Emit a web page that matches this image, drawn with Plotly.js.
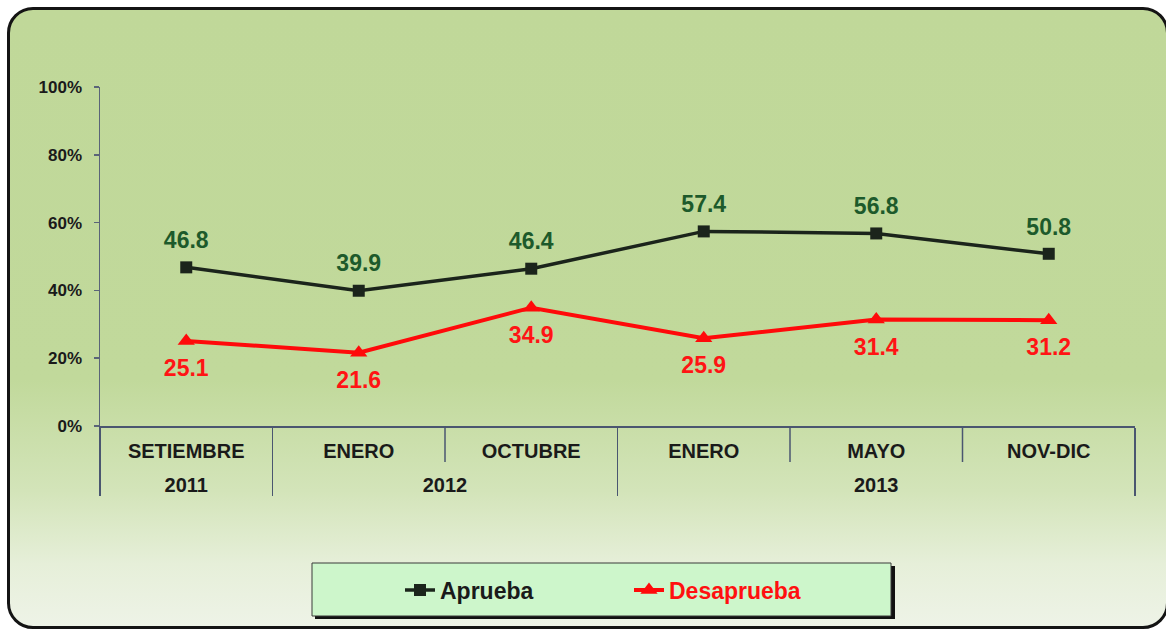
<!DOCTYPE html>
<html>
<head>
<meta charset="utf-8">
<script src="https://cdn.plot.ly/plotly-3.0.1.min.js"></script>
<style>
  html, body { margin: 0; padding: 0; background: #ffffff; }
  #wrap { position: relative; width: 1166px; height: 631px; overflow: hidden; background: #ffffff; }
  #frame {
    position: absolute; left: 7px; top: 7px; width: 1162px; height: 622px;
    border: 3px solid #141414; border-radius: 26px; box-sizing: border-box;
    background: linear-gradient(to bottom, #c0d899 0%, #c1d99b 60%, #d3e4b9 78%, #e6efd9 90%, #eef3e7 100%);
  }
  #chart { position: absolute; left: 0; top: 0; width: 1166px; height: 631px; }
</style>
</head>
<body>
<div id="wrap">
  <div id="frame"></div>
  <div id="chart"></div>
</div>
<script>
// ---- data ----
const years = ['2011', '2012', '2012', '2013', '2013', '2013'];
const months = ['SETIEMBRE', 'ENERO', 'OCTUBRE', 'ENERO', 'MAYO', 'NOV-DIC'];
const aprueba = [46.8, 39.9, 46.4, 57.4, 56.8, 50.8];
const desaprueba = [25.1, 21.6, 34.9, 25.9, 31.4, 31.2];
const yTicks = [0, 20, 40, 60, 80, 100];
const seriesNames = ['Aprueba', 'Desaprueba'];

const FONT = 'Liberation Sans, Arial, sans-serif';
// symmetric tall spacer around inner labels only adds vertical room before the year row
const PAD = '<span style="font-size:34px">&nbsp;</span>';
const monthLabels = months.map(function (m) { return PAD + m + PAD; });
const x = [years, monthLabels];

const traces = [
  {
    type: 'scatter', mode: 'lines+markers', name: seriesNames[0],
    x: x, y: aprueba,
    line: { color: '#1b241b', width: 3.5 },
    marker: { symbol: 'square', size: 12, color: '#1b241b' },
    hoverinfo: 'skip'
  },
  {
    type: 'scatter', mode: 'lines+markers',
    name: '<span style="color:#ff1010">' + seriesNames[1] + '</span>',
    x: x, y: desaprueba,
    line: { color: '#ff0a0a', width: 4 },
    marker: { symbol: 'triangle-up', size: 15, color: '#ff0a0a' },
    hoverinfo: 'skip'
  },
  {
    type: 'scatter', mode: 'markers+text', showlegend: false,
    x: x, y: aprueba,
    marker: { size: 20, opacity: 0, color: '#000' },
    texttemplate: '%{y:.1f}', textposition: 'top center',
    textfont: { family: FONT, size: 23, color: '#1d5a2b', weight: 'bold' },
    hoverinfo: 'skip'
  },
  {
    type: 'scatter', mode: 'markers+text', showlegend: false,
    x: x, y: desaprueba,
    marker: { size: 27, opacity: 0, color: '#000' },
    texttemplate: '%{y:.1f}', textposition: 'bottom center',
    textfont: { family: FONT, size: 23, color: '#ff1414', weight: 'bold' },
    hoverinfo: 'skip'
  }
];

const W = 1035, H = 339, L = 100, T = 87;
function px(v) { return (v - L) / W; }
function py(v) { return (T + H - v) / H; }

const shapes = [];
// short inner separators (within same year)
[2, 4, 5].forEach(function (i) {
  shapes.push({ type: 'line', xref: 'paper', yref: 'paper', x0: i / 6, x1: i / 6, y0: 0, y1: py(462),
    line: { color: '#4a5670', width: 1.5 } });
});
// legend shadow + box
shapes.push({ type: 'rect', xref: 'paper', yref: 'paper', layer: 'below',
  x0: px(315), x1: px(895), y0: py(619), y1: py(566), fillcolor: '#111111', line: { width: 0 } });
shapes.push({ type: 'rect', xref: 'paper', yref: 'paper', layer: 'below',
  x0: px(312), x1: px(891), y0: py(616), y1: py(563), fillcolor: '#cdf6cb', line: { color: '#3a3a3a', width: 1 } });

const layout = {
  width: 1166, height: 631,
  margin: { l: 100, r: 31, t: 87, b: 205, pad: 0 },
  paper_bgcolor: 'rgba(0,0,0,0)',
  plot_bgcolor: 'rgba(0,0,0,0)',
  font: { family: FONT, color: '#1a1a1a' },
  showlegend: true,
  legend: {
    orientation: 'h', x: px(400), y: py(590), xanchor: 'left', yanchor: 'middle',
    bgcolor: 'rgba(0,0,0,0)', borderwidth: 0,
    font: { family: FONT, size: 23, color: '#1a1a1a', weight: 'bold' },
    entrywidth: 184, entrywidthmode: 'pixels'
  },
  xaxis: {
    type: 'multicategory',
    range: [-0.5, 5.5],
    showgrid: false, zeroline: false,
    showline: true, linecolor: '#4a5670', linewidth: 1.5,
    ticks: '', tickson: 'boundaries',
    ticklabelstandoff: 6,
    showdividers: true, dividercolor: '#4a5670', dividerwidth: 1.5,
    tickfont: { family: FONT, size: 20, color: '#1a1a1a', weight: 'bold' },
    fixedrange: true
  },
  yaxis: {
    range: [0, 100], tickvals: yTicks, ticktext: yTicks.map(function (v) { return v + '%'; }),
    showgrid: false, zeroline: false,
    showline: true, linecolor: '#5a6478', linewidth: 1.5,
    ticks: 'outside', ticklen: 5, tickcolor: '#5a6478', tickwidth: 1.5,
    ticklabelstandoff: 8,
    tickfont: { family: FONT, size: 17, color: '#1a1a1a', weight: 'bold' },
    fixedrange: true
  },
  shapes: shapes
};

Plotly.newPlot('chart', traces, layout, { staticPlot: true, displayModeBar: false });
</script>
</body>
</html>
